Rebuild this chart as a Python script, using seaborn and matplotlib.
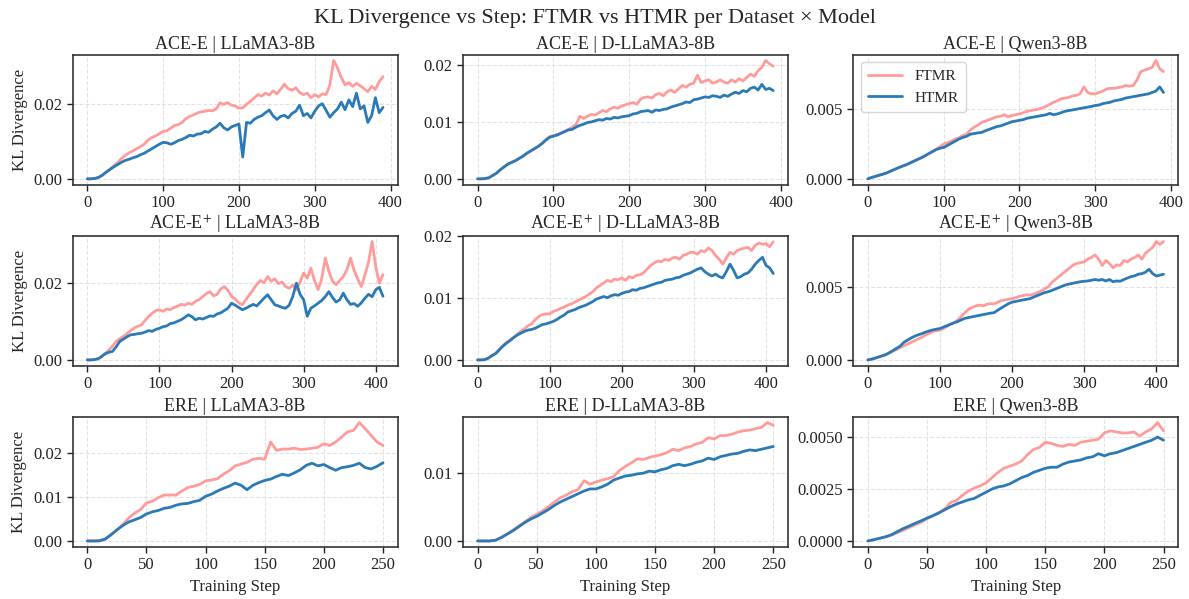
import matplotlib
matplotlib.use("Agg")
import matplotlib.pyplot as plt
from matplotlib.ticker import FormatStrFormatter
import seaborn as sns

# KL divergence values in units of 1e-3, one value every 5 training steps
STEP_EVERY = 5

ACE_LLAMA_FTMR = [0.0, 0.0, 0.1, 0.4, 1.0, 1.8, 2.6, 3.5, 4.3, 5.4, 6.2, 6.9, 7.4, 8.0, 8.6, 9.2, 10.3, 11.0, 11.4, 12.0,
                  12.6, 12.8, 13.5, 14.2, 14.4, 15.0, 16.0, 16.6, 17.0, 17.5, 17.8, 18.0, 18.2, 18.1, 18.6, 20.2, 19.8, 20.3, 19.6, 19.4,
                  18.8, 18.9, 19.8, 20.6, 21.5, 22.4, 22.0, 22.8, 22.3, 23.4, 22.6, 23.8, 25.2, 24.0, 23.6, 24.2, 23.0, 22.4, 22.8, 21.6,
                  22.4, 21.8, 22.6, 22.4, 25.0, 31.5, 29.5, 27.0, 25.0, 25.6, 24.6, 25.4, 24.8, 24.0, 23.2, 24.6, 23.8, 25.8, 27.2]
ACE_LLAMA_HTMR = [0.0, 0.0, 0.1, 0.4, 1.0, 1.8, 2.5, 3.2, 3.8, 4.4, 4.9, 5.2, 5.6, 5.9, 6.4, 6.8, 7.4, 8.0, 8.6, 9.2,
                  9.7, 9.6, 9.2, 9.6, 10.2, 10.5, 11.0, 11.6, 11.4, 11.9, 12.0, 12.6, 12.4, 13.2, 13.8, 14.8, 13.6, 13.0, 13.8, 14.2,
                  14.6, 5.8, 15.0, 14.8, 15.8, 16.4, 16.8, 17.6, 18.3, 16.8, 15.8, 16.6, 16.9, 16.2, 17.4, 18.0, 19.6, 16.8, 17.4, 16.2,
                  18.0, 19.4, 20.0, 18.2, 16.4, 17.6, 18.6, 20.4, 18.4, 21.0, 19.2, 22.8, 18.6, 19.4, 15.0, 16.8, 21.6, 17.6, 19.0]

ACE_DLLAMA_FTMR = [0.0, 0.0, 0.05, 0.2, 0.6, 1.0, 1.6, 2.1, 2.6, 2.9, 3.2, 3.6, 4.0, 4.5, 4.9, 5.3, 5.7, 6.2, 6.9, 7.4,
                   7.6, 7.8, 8.0, 8.4, 8.7, 9.1, 9.6, 11.0, 10.6, 11.0, 11.3, 11.2, 11.6, 12.0, 11.8, 12.3, 12.6, 12.4, 12.8, 13.0,
                   13.2, 13.4, 13.1, 14.0, 14.3, 14.4, 14.2, 14.8, 15.0, 14.6, 15.3, 15.6, 15.2, 15.8, 16.4, 16.1, 16.6, 16.8, 18.2, 16.9,
                   17.2, 17.4, 16.8, 17.0, 17.4, 17.0, 16.8, 17.4, 17.0, 17.6, 17.2, 17.8, 18.4, 18.0, 19.0, 19.6, 20.8, 20.2, 19.8]
ACE_DLLAMA_HTMR = [0.0, 0.0, 0.05, 0.2, 0.6, 1.0, 1.6, 2.1, 2.6, 2.9, 3.2, 3.6, 4.0, 4.5, 4.9, 5.3, 5.7, 6.2, 6.8, 7.3,
                   7.5, 7.7, 8.0, 8.3, 8.6, 8.7, 9.1, 9.4, 9.6, 9.9, 10.0, 10.2, 10.4, 10.3, 10.6, 10.5, 10.8, 10.7, 10.9, 11.0,
                   11.1, 11.4, 11.5, 11.8, 11.9, 12.0, 11.7, 12.1, 12.0, 12.2, 12.3, 12.6, 12.8, 13.0, 13.2, 13.5, 13.4, 13.9, 14.0, 14.2,
                   14.4, 14.3, 14.6, 14.5, 14.3, 14.7, 14.5, 14.9, 15.2, 15.0, 15.5, 15.3, 15.9, 16.1, 15.6, 16.6, 15.7, 15.9, 15.5]

ACE_QWEN_FTMR = [0.0, 0.1, 0.18, 0.26, 0.34, 0.43, 0.55, 0.67, 0.79, 0.9, 1.0, 1.12, 1.25, 1.38, 1.5, 1.64, 1.8, 1.95, 2.1, 2.3,
                 2.5, 2.6, 2.7, 2.85, 2.95, 3.1, 3.2, 3.5, 3.7, 3.85, 4.05, 4.15, 4.25, 4.35, 4.45, 4.5, 4.6, 4.45, 4.55, 4.6,
                 4.66, 4.75, 4.85, 4.9, 4.95, 5.0, 5.1, 5.2, 5.35, 5.5, 5.6, 5.75, 5.8, 5.85, 5.95, 6.0, 6.1, 6.6, 6.2, 6.1,
                 6.1, 6.2, 6.3, 6.45, 6.5, 6.5, 6.55, 6.6, 6.7, 6.65, 6.7, 7.1, 7.7, 7.8, 7.9, 8.0, 8.5, 7.9, 7.7]
ACE_QWEN_HTMR = [0.0, 0.1, 0.18, 0.26, 0.34, 0.43, 0.55, 0.67, 0.79, 0.9, 1.0, 1.12, 1.25, 1.38, 1.5, 1.64, 1.8, 1.95, 2.1, 2.2,
                 2.25, 2.4, 2.55, 2.7, 2.85, 2.97, 3.05, 3.2, 3.25, 3.3, 3.33, 3.45, 3.55, 3.65, 3.75, 3.8, 3.9, 4.0, 4.1, 4.15,
                 4.2, 4.25, 4.35, 4.4, 4.45, 4.5, 4.55, 4.6, 4.7, 4.6, 4.66, 4.75, 4.85, 4.9, 4.95, 5.0, 5.05, 5.1, 5.15, 5.2,
                 5.27, 5.3, 5.4, 5.45, 5.5, 5.6, 5.65, 5.7, 5.8, 5.85, 5.9, 5.95, 6.0, 6.05, 6.1, 6.2, 6.3, 6.6, 6.2]

ACEP_LLAMA_FTMR = [0.0, 0.0, 0.1, 0.3, 0.9, 1.7, 2.6, 3.6, 4.8, 5.5, 6.1, 6.8, 7.6, 8.3, 8.7, 9.1, 10.2, 11.2, 12.1, 12.8,
                   13.0, 12.6, 13.2, 13.0, 13.6, 13.9, 14.4, 14.2, 14.7, 14.4, 15.2, 15.6, 16.4, 17.2, 17.7, 16.6, 17.0, 18.4, 19.0, 18.0,
                   16.5, 15.8, 14.8, 14.3, 15.6, 16.9, 18.2, 19.6, 20.6, 20.0, 21.6, 20.4, 21.0, 19.8, 20.2, 19.0, 18.6, 19.4, 18.2, 20.2,
                   22.5, 21.2, 23.8, 20.6, 18.2, 21.0, 26.4, 23.0, 20.4, 19.5, 20.6, 21.6, 23.4, 26.4, 23.2, 21.0, 19.0, 22.0, 25.4, 30.7,
                   24.2, 19.9, 22.1]
ACEP_LLAMA_HTMR = [0.0, 0.0, 0.1, 0.3, 0.9, 1.6, 2.0, 2.2, 3.4, 4.8, 5.4, 6.0, 6.5, 6.6, 6.8, 6.9, 7.2, 7.6, 7.4, 7.9,
                   8.2, 8.6, 8.8, 9.4, 9.6, 10.0, 10.4, 11.0, 11.7, 11.2, 10.4, 10.8, 10.6, 11.0, 11.4, 11.3, 11.9, 12.2, 12.8, 13.4,
                   14.7, 14.2, 13.6, 13.0, 13.4, 13.9, 14.4, 14.0, 15.0, 16.0, 16.9, 15.6, 14.3, 14.0, 13.6, 13.4, 14.2, 16.5, 19.9, 17.0,
                   15.6, 11.3, 13.4, 14.0, 14.7, 15.4, 16.4, 17.7, 16.2, 15.0, 15.6, 17.3, 15.6, 14.4, 14.6, 13.9, 14.8, 16.0, 17.0, 16.4,
                   18.2, 18.8, 16.5]

ACEP_DLLAMA_FTMR = [0.0, 0.0, 0.05, 0.3, 0.7, 1.1, 1.7, 2.3, 2.8, 3.2, 3.6, 4.1, 4.6, 5.0, 5.5, 5.8, 6.5, 7.0, 7.3, 7.4,
                    7.4, 7.8, 8.0, 8.3, 8.5, 8.8, 9.0, 9.3, 9.6, 9.9, 10.2, 10.6, 11.0, 11.6, 12.0, 12.4, 12.8, 12.6, 13.0, 12.9,
                    13.2, 12.8, 13.4, 13.2, 13.6, 13.7, 14.0, 14.6, 15.2, 15.6, 15.9, 15.8, 16.2, 16.0, 16.4, 16.5, 16.2, 16.8, 17.0, 17.3,
                    17.3, 17.0, 17.6, 17.4, 18.0, 17.6, 16.8, 16.2, 15.4, 16.4, 17.3, 17.0, 17.6, 17.8, 18.0, 18.1, 17.6, 18.4, 18.8, 18.6,
                    18.7, 18.2, 19.0]
ACEP_DLLAMA_HTMR = [0.0, 0.0, 0.05, 0.3, 0.7, 1.0, 1.6, 2.2, 2.7, 3.1, 3.6, 4.0, 4.3, 4.6, 4.8, 4.9, 5.1, 5.4, 5.7, 5.8,
                    6.0, 6.2, 6.5, 6.9, 7.2, 7.7, 7.9, 8.1, 8.4, 8.6, 8.8, 9.1, 9.4, 9.8, 10.0, 10.2, 10.0, 10.3, 10.5, 10.4,
                    10.7, 10.9, 11.0, 11.3, 11.2, 11.5, 11.6, 11.8, 12.0, 12.2, 12.4, 12.5, 12.8, 12.9, 13.0, 13.2, 13.3, 13.6, 13.8, 14.0,
                    14.3, 14.6, 14.8, 14.2, 13.8, 13.5, 13.8, 13.4, 13.2, 14.2, 15.4, 14.4, 13.2, 13.4, 13.8, 14.0, 14.6, 15.4, 16.0, 16.5,
                    15.2, 14.8, 13.9]

ACEP_QWEN_FTMR = [0.0, 0.05, 0.12, 0.2, 0.28, 0.36, 0.48, 0.6, 0.72, 0.84, 0.96, 1.08, 1.2, 1.32, 1.44, 1.55, 1.7, 1.82, 1.95, 2.0,
                  2.03, 2.15, 2.3, 2.45, 2.55, 2.75, 3.0, 3.25, 3.47, 3.6, 3.7, 3.75, 3.7, 3.8, 3.85, 3.83, 3.95, 4.05, 4.1, 4.15,
                  4.19, 4.25, 4.35, 4.4, 4.45, 4.43, 4.5, 4.6, 4.7, 4.85, 5.0, 5.3, 5.5, 5.7, 5.9, 6.1, 6.3, 6.5, 6.6, 6.65,
                  6.7, 6.9, 7.0, 7.18, 6.9, 6.46, 6.8, 6.6, 6.3, 6.5, 6.46, 6.8, 6.7, 6.9, 7.0, 7.18, 6.9, 7.3, 7.5, 7.7,
                  8.1, 7.9, 8.1]
ACEP_QWEN_HTMR = [0.0, 0.05, 0.12, 0.2, 0.28, 0.36, 0.5, 0.65, 0.8, 0.95, 1.2, 1.35, 1.5, 1.62, 1.72, 1.8, 1.9, 1.98, 2.05, 2.1,
                  2.15, 2.25, 2.35, 2.45, 2.55, 2.63, 2.75, 2.85, 2.9, 2.95, 3.0, 3.05, 3.1, 3.15, 3.2, 3.23, 3.4, 3.55, 3.7, 3.85,
                  3.95, 4.0, 4.05, 4.1, 4.15, 4.19, 4.3, 4.4, 4.5, 4.6, 4.66, 4.75, 4.85, 4.95, 5.05, 5.14, 5.2, 5.25, 5.3, 5.35,
                  5.38, 5.4, 5.45, 5.5, 5.45, 5.5, 5.4, 5.5, 5.35, 5.4, 5.38, 5.5, 5.6, 5.7, 5.75, 5.86, 5.9, 6.0, 6.2, 5.9,
                  5.74, 5.8, 5.86]

ERE_LLAMA_FTMR = [0.0, 0.0, 0.1, 0.4, 1.4, 2.5, 3.7, 5.2, 6.3, 7.1, 8.6, 9.0, 9.8, 10.4, 10.4, 10.4, 11.3, 12.1, 12.4, 12.8,
                  13.6, 13.8, 14.1, 15.1, 15.9, 17.0, 17.4, 17.8, 18.5, 18.7, 18.5, 22.4, 20.5, 20.8, 20.8, 21.0, 20.7, 20.8, 21.0, 21.2,
                  22.0, 21.6, 22.4, 23.5, 24.7, 25.0, 26.8, 25.4, 23.9, 22.4, 21.6]
ERE_LLAMA_HTMR = [0.0, 0.0, 0.0, 0.4, 1.4, 2.5, 3.5, 4.3, 4.8, 5.3, 6.1, 6.6, 6.9, 7.4, 7.6, 8.1, 8.4, 8.5, 8.9, 9.2,
                  10.1, 10.6, 11.3, 11.9, 12.4, 13.1, 12.6, 11.6, 12.6, 13.2, 13.7, 14.0, 14.6, 15.1, 14.8, 15.4, 16.1, 17.1, 17.6, 17.0,
                  17.3, 16.6, 16.0, 16.6, 16.8, 17.1, 17.6, 16.6, 16.3, 16.9, 17.7]

ERE_DLLAMA_FTMR = [0.0, 0.0, 0.0, 0.1, 0.5, 1.0, 1.6, 2.2, 2.8, 3.4, 3.9, 4.4, 5.0, 5.7, 6.3, 6.7, 7.2, 7.5, 8.8, 8.3,
                   8.6, 8.9, 9.1, 9.4, 10.3, 10.9, 11.4, 12.0, 11.9, 12.2, 12.4, 12.6, 12.9, 13.4, 13.2, 13.6, 13.8, 14.2, 14.4, 15.1,
                   14.9, 15.4, 15.4, 15.6, 15.9, 16.1, 16.2, 16.4, 16.6, 17.3, 16.9]
ERE_DLLAMA_HTMR = [0.0, 0.0, 0.0, 0.1, 0.5, 1.0, 1.5, 2.1, 2.7, 3.2, 3.6, 4.1, 4.6, 5.2, 5.7, 6.1, 6.5, 6.9, 7.3, 7.6,
                   7.6, 7.9, 8.3, 8.9, 9.2, 9.5, 9.6, 9.8, 9.9, 10.2, 10.1, 10.4, 10.6, 11.0, 11.2, 11.0, 11.2, 11.5, 11.7, 12.1,
                   11.9, 12.3, 12.5, 12.7, 12.8, 13.1, 13.3, 13.2, 13.4, 13.6, 13.8]

ERE_QWEN_FTMR = [0.0, 0.06, 0.13, 0.2, 0.28, 0.4, 0.52, 0.65, 0.78, 0.9, 1.07, 1.2, 1.35, 1.55, 1.85, 1.95, 2.2, 2.4, 2.55, 2.65,
                 2.8, 3.05, 3.3, 3.5, 3.6, 3.7, 3.85, 4.15, 4.4, 4.5, 4.75, 4.7, 4.6, 4.55, 4.65, 4.6, 4.75, 4.8, 4.85, 4.9,
                 5.2, 5.3, 5.25, 5.2, 5.2, 5.25, 5.05, 5.25, 5.4, 5.7, 5.3]
ERE_QWEN_HTMR = [0.0, 0.06, 0.13, 0.2, 0.3, 0.45, 0.6, 0.72, 0.85, 0.97, 1.1, 1.22, 1.35, 1.5, 1.65, 1.78, 1.88, 1.98, 2.05, 2.2,
                 2.35, 2.5, 2.6, 2.65, 2.75, 2.9, 3.05, 3.15, 3.3, 3.4, 3.5, 3.55, 3.55, 3.7, 3.8, 3.85, 3.9, 4.0, 4.05, 4.2,
                 4.1, 4.2, 4.25, 4.35, 4.45, 4.55, 4.65, 4.75, 4.85, 5.0, 4.85]

DATASETS = ["ACE-E", "ACE-E$^{+}$", "ERE"]
MODELS = ["LLaMA3-8B", "D-LLaMA3-8B", "Qwen3-8B"]
METHODS = ["FTMR", "HTMR"]
COLORS = {"FTMR": "#FF9B9B", "HTMR": "#2A7AB7"}

SERIES = [
    [(ACE_LLAMA_FTMR, ACE_LLAMA_HTMR), (ACE_DLLAMA_FTMR, ACE_DLLAMA_HTMR), (ACE_QWEN_FTMR, ACE_QWEN_HTMR)],
    [(ACEP_LLAMA_FTMR, ACEP_LLAMA_HTMR), (ACEP_DLLAMA_FTMR, ACEP_DLLAMA_HTMR), (ACEP_QWEN_FTMR, ACEP_QWEN_HTMR)],
    [(ERE_LLAMA_FTMR, ERE_LLAMA_HTMR), (ERE_DLLAMA_FTMR, ERE_DLLAMA_HTMR), (ERE_QWEN_FTMR, ERE_QWEN_HTMR)],
]

XTICKS = [[0, 100, 200, 300, 400], [0, 100, 200, 300, 400], [0, 50, 100, 150, 200, 250]]
YTICKS = [
    [[0, 0.02], [0, 0.01, 0.02], [0, 0.005]],
    [[0, 0.02], [0, 0.01, 0.02], [0, 0.005]],
    [[0, 0.01, 0.02], [0, 0.01], [0, 0.0025, 0.005]],
]
YFMT = [["%.2f", "%.2f", "%.3f"], ["%.2f", "%.2f", "%.3f"], ["%.2f", "%.2f", "%.4f"]]


def main():
    sns.set_theme(style="ticks")
    plt.rcParams["font.family"] = ["Liberation Serif", "DejaVu Serif"]
    plt.rcParams["mathtext.fontset"] = "stix"

    fig, axes = plt.subplots(3, 3, figsize=(11.89, 5.99), dpi=100)
    fig.subplots_adjust(left=0.061, right=0.991, top=0.909, bottom=0.087, wspace=0.2, hspace=0.39)

    for r, dataset in enumerate(DATASETS):
        for c, model in enumerate(MODELS):
            ax = axes[r, c]
            show_legend = (r == 0 and c == 2)
            for method, vals in zip(METHODS, SERIES[r][c]):
                steps = list(range(0, STEP_EVERY * len(vals), STEP_EVERY))
                kl = [v / 1000 for v in vals]
                sns.lineplot(x=steps, y=kl, ax=ax, color=COLORS[method], linewidth=2,
                             label=method, legend=show_legend)
            ax.set_title(f"{dataset} | {model}", fontsize=13, pad=4)
            ax.set_xticks(XTICKS[r])
            ax.set_yticks(YTICKS[r][c])
            ax.yaxis.set_major_formatter(FormatStrFormatter(YFMT[r][c]))
            ax.tick_params(labelsize=12, length=4, width=1, colors="#222222")
            ax.grid(True, linestyle="--", linewidth=0.8, color="#dddddd", alpha=0.8)
            for sp in ax.spines.values():
                sp.set_color("#333333")
                sp.set_linewidth(1.2)
            ax.set_xlabel("Training Step" if r == 2 else "", fontsize=12)
            ax.set_ylabel("KL Divergence" if c == 0 else "", fontsize=12)
            if show_legend:
                ax.legend(loc="upper left", fontsize=11, frameon=True, edgecolor="#cccccc",
                          handlelength=2.2, borderpad=0.5)

    fig.suptitle("KL Divergence vs Step: FTMR vs HTMR per Dataset \u00d7 Model", fontsize=16, y=0.985)
    fig.savefig("out.png", dpi=100)
    plt.close(fig)


if __name__ == "__main__":
    main()
